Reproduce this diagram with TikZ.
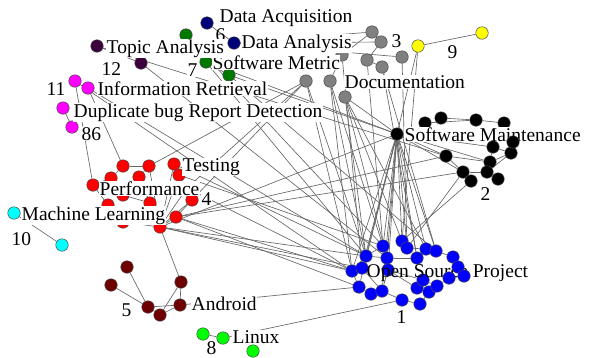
\documentclass[tikz,border=0pt]{standalone}
\usepackage{fontspec}
\setmainfont{Liberation Serif}
\newcommand\lbfont{\fontsize{19.5}{20}\selectfont}
\definecolor{cnavy}{RGB}{0,0,120}
\definecolor{cgreen}{RGB}{0,120,0}
\definecolor{cpurple}{RGB}{60,0,60}
\definecolor{cmagenta}{RGB}{255,0,255}
\definecolor{cyellow}{RGB}{255,255,0}
\definecolor{ccyan}{RGB}{0,255,255}
\definecolor{cmaroon}{RGB}{110,0,0}
\definecolor{clgreen}{RGB}{0,255,0}
\definecolor{cgray}{RGB}{128,128,128}
\definecolor{cred}{RGB}{255,0,0}
\definecolor{cblue}{RGB}{0,0,255}
\pgfdeclarelayer{bg}
\pgfdeclarelayer{front}
\pgfsetlayers{bg,main,front}
\tikzset{
  nd/.style={circle, minimum size=12.5pt, inner sep=0pt, draw=black!70, line width=0.5pt, fill=#1},
  lbl/.style={anchor=base west, inner sep=0.5pt, font=\lbfont, fill=white},
  lbn/.style={anchor=base west, inner sep=0.5pt, font=\lbfont},
  ed/.style={draw=black!60, line width=0.65pt}
}
\begin{document}
\begin{tikzpicture}[x=1pt,y=-1pt]
\useasboundingbox (0,0) rectangle (594,357);
% navy 6
\node[nd=cnavy] (n1) at (207,23) {};
\node[nd=cnavy] (n2) at (234,43) {};
% green 7
\node[nd=cgreen] (g1) at (186,35) {};
\node[nd=cgreen] (g2) at (206,62) {};
\node[nd=cgreen] (g3) at (229,75) {};
% purple 12
\node[nd=cpurple] (p1) at (97,46) {};
\node[nd=cpurple] (p2) at (141,63) {};
% magenta 11
\node[nd=cmagenta] (m1) at (75,81) {};
\node[nd=cmagenta] (m2) at (88,88) {};
\node[nd=cmagenta] (m3) at (63,108) {};
\node[nd=cmagenta] (m4) at (72,127) {};
% gray 3
\node[nd=cgray] (gr1) at (372,32) {};
\node[nd=cgray] (gr2) at (381,42) {};
\node[nd=cgray] (gr3) at (402,57) {};
\node[nd=cgray] (gr4) at (342,55) {};
\node[nd=cgray] (gr5) at (367,60) {};
\node[nd=cgray] (gr6) at (382,67) {};
\node[nd=cgray] (gr7) at (306,81) {};
\node[nd=cgray] (gr8) at (330,81) {};
\node[nd=cgray] (gr9) at (345,97) {};
% yellow 9
\node[nd=cyellow] (y1) at (418,46) {};
\node[nd=cyellow] (y2) at (482,33) {};
% black 2
\node[nd=black] (k1) at (397,134) {};
\node[nd=black] (k2) at (425,123) {};
\node[nd=black] (k3) at (441,118) {};
\node[nd=black] (k4) at (476,120) {};
\node[nd=black] (k5) at (504,123) {};
\node[nd=black] (k8) at (511,153) {};
\node[nd=black] (k9) at (446,156) {};
\node[nd=black] (k10) at (490,162) {};
\node[nd=black] (k11) at (487,172) {};
\node[nd=black] (k12) at (463,172) {};
\node[nd=black] (k13) at (471,181) {};
\node[nd=black] (k14) at (498,179) {};
% red 4
\node[nd=cred] (r1) at (123,166) {};
\node[nd=cred] (r2) at (149,166) {};
\node[nd=cred] (r3) at (174,164) {};
\node[nd=cred] (r4) at (111,178) {};
\node[nd=cred] (r5) at (139,177) {};
\node[nd=cred] (r6) at (179,175) {};
\node[nd=cred] (r7) at (93,185) {};
\node[nd=cred] (r8) at (187,188) {};
\node[nd=cred] (r9) at (192,200) {};
\node[nd=cred] (r10) at (150,203) {};
\node[nd=cred] (r11) at (108,205) {};
\node[nd=cred] (r12) at (176,217) {};
\node[nd=cred] (r13) at (160,227) {};
\node[nd=cred] (r14) at (123,222) {};
\node[nd=cred] (r15) at (123,195) {};
% cyan 10
\node[nd=ccyan] (c1) at (14,213) {};
\node[nd=ccyan] (c2) at (62,245) {};
% maroon 5
\node[nd=cmaroon] (ma1) at (127,267) {};
\node[nd=cmaroon] (ma2) at (111,285) {};
\node[nd=cmaroon] (ma3) at (148,307) {};
\node[nd=cmaroon] (ma4) at (160,315) {};
\node[nd=cmaroon] (ma5) at (181,282) {};
\node[nd=cmaroon] (ma6) at (180,305) {};
% light green 8
\node[nd=clgreen] (lg1) at (203,334) {};
\node[nd=clgreen] (lg2) at (223,338) {};
\node[nd=clgreen] (lg3) at (253,351) {};
% blue 1
\node[nd=cblue] (b1) at (366,256) {};
\node[nd=cblue] (b2) at (383,246) {};
\node[nd=cblue] (b3) at (402,241) {};
\node[nd=cblue] (b4) at (407,248) {};
\node[nd=cblue] (b5) at (387,258) {};
\node[nd=cblue] (b6) at (426,249) {};
\node[nd=cblue] (b7) at (436,251) {};
\node[nd=cblue] (b8) at (417,258) {};
\node[nd=cblue] (b9) at (453,257) {};
\node[nd=cblue] (b10) at (352,271) {};
\node[nd=cblue] (b11) at (362,268) {};
\node[nd=cblue] (b12) at (388,270) {};
\node[nd=cblue] (b16) at (359,287) {};
\node[nd=cblue] (b17) at (371,294) {};
\node[nd=cblue] (b18) at (382,291) {};
\node[nd=cblue] (b19) at (402,300) {};
\node[nd=cblue] (b20) at (420,304) {};
\node[nd=cblue] (b21) at (417,288) {};
\node[nd=cblue] (b22) at (423,280) {};
\node[nd=cblue] (b23) at (429,292) {};
\node[nd=cblue] (b24) at (437,286) {};
\begin{pgfonlayer}{front}
\node[nd=black] (k6) at (493,147) {};
\node[nd=black] (k7) at (513,142) {};
\node[nd=cblue] (b13) at (458,267) {};
\node[nd=cblue] (b14) at (449,278) {};
\node[nd=cblue] (b15) at (464,276) {};
\end{pgfonlayer}
% edges
\begin{pgfonlayer}{bg}
\fill[white] (0,0) rectangle (594,357);
\foreach \a/\b in {n1/n2, g2/g3, p1/p2, m3/m4, c1/c2, y1/y2, lg1/lg2,
  gr1/gr4, gr2/gr5, gr4/gr8, gr5/gr6, gr1/gr2, n2/gr1, n2/gr2, n2/gr3,
  k2/k4, k3/k4, k4/k5, k1/k12, k1/k10, k1/k9, k9/k12, k9/k10, k10/k11, k6/k10,
  k7/k8, k8/k11, k11/k12, k12/k13, k11/k14, k6/k8, k10/k8, k1/k6,
  r13/r12, r13/r9, r13/r8, r13/r6, r13/r10, r13/r5, r12/r9, r3/r6, r6/r8, r8/r9,
  r2/r5, r1/r4, r4/r7, r5/r10, r1/r2, r11/r14, r14/r13, r7/r11, r3/r13, r2/r13, r15/r10,
  ma1/ma3, ma2/ma3, ma3/ma6, ma4/ma6, ma5/ma6, ma4/ma5, ma3/ma4, r13/ma5,
  b10/b11, b1/b5, b2/b5, b3/b4, b6/b7, b8/b6, b9/b13, b13/b15, b14/b15, b16/b17,
  b17/b18, b18/b19, b19/b20, b21/b23, b22/b24, b12/b21, b1/b10, b5/b8, b18/b12,
  b16/b10, b9/b7, b20/b23, b1/b2, b4/b6, b11/b18, b12/b22, b14/b24, b5/b12,
  k1/b1, k1/b2, k1/b3, k1/b4, k1/b5, k1/b10, k1/b11, k1/b8, k1/b6, k1/b16, k1/b18, k1/b7, k1/b12,
  gr8/b1, gr8/b2, gr8/b10, gr9/b3, gr9/b5, gr9/b1, gr9/b6, gr4/b11, gr5/b2, gr6/b8,
  gr6/b7, gr7/b1, gr7/b10, gr3/b4, gr9/k1, y1/k1, y1/b3,
  g1/b2, g2/b1, g2/k1, g3/b7, g3/k1, m2/b1, m1/b10, m1/r7, m2/r1, p2/b5, p1/k9,
  r13/b10, r13/b11, r13/b1, r12/b10, r12/b16, r3/b1, r6/b2, r8/b10, r13/k1,
  r12/k9, r12/k12, r9/gr7, r8/gr7, r2/gr7, ma6/b16, lg2/b19, k13/b3, k12/b4}
  \draw[ed] (\a) -- (\b);
\end{pgfonlayer}
% labels
\node[lbl] (t6a) at (219,22) {Data Acquisition};
\node[lbn] (t6n) at (215,41) {6};
\node[lbl] (t6b) at (241,48) {Data Analysis};
\node[lbl] (t7a) at (212,69) {Software Metric};
\node[lbl] (t7n) at (187,76) {7};
\node[lbl] (t12a) at (106,53) {Topic Analysis};
\node[lbl] (t12n) at (101,75) {12};
\node[lbl] (t11n) at (46,95) {11};
\node[lbl] (t11a) at (97,95) {Information Retrieval};
\node[lbl] (t11b) at (73,117) {Duplicate bug Report Detection};
\node[lbl] (t86) at (81,140) {86};
\node[lbl] (t4a) at (182,171) {Testing};
\node[lbl] (t4b) at (99,195) {Performance};
\node[lbl] (t4n) at (201,205) {4};
\node[lbl] (t10a) at (21,220) {Machine Learning};
\node[lbl] (t10n) at (11,245) {10};
\node[lbl] (t5n) at (121,316) {5};
\node[lbl] (t5a) at (191,310) {Android};
\node[lbl] (t8a) at (232,343) {Linux};
\node[lbl] (t8n) at (206,354) {8};
\node[lbn] (t1a) at (366,277) {Open Source Project};
\node[lbl] (t1n) at (396,323) {1};
\node[lbl] (t2n) at (480,200) {2};
\node[lbl] (t2a) at (404,141) {Software Maintenance};
\node[lbl] (t3a) at (344,88) {Documentation};
\node[lbl] (t3n) at (391,47) {3};
\node[lbl] (t9n) at (447,58) {9};
\end{tikzpicture}
\end{document}
